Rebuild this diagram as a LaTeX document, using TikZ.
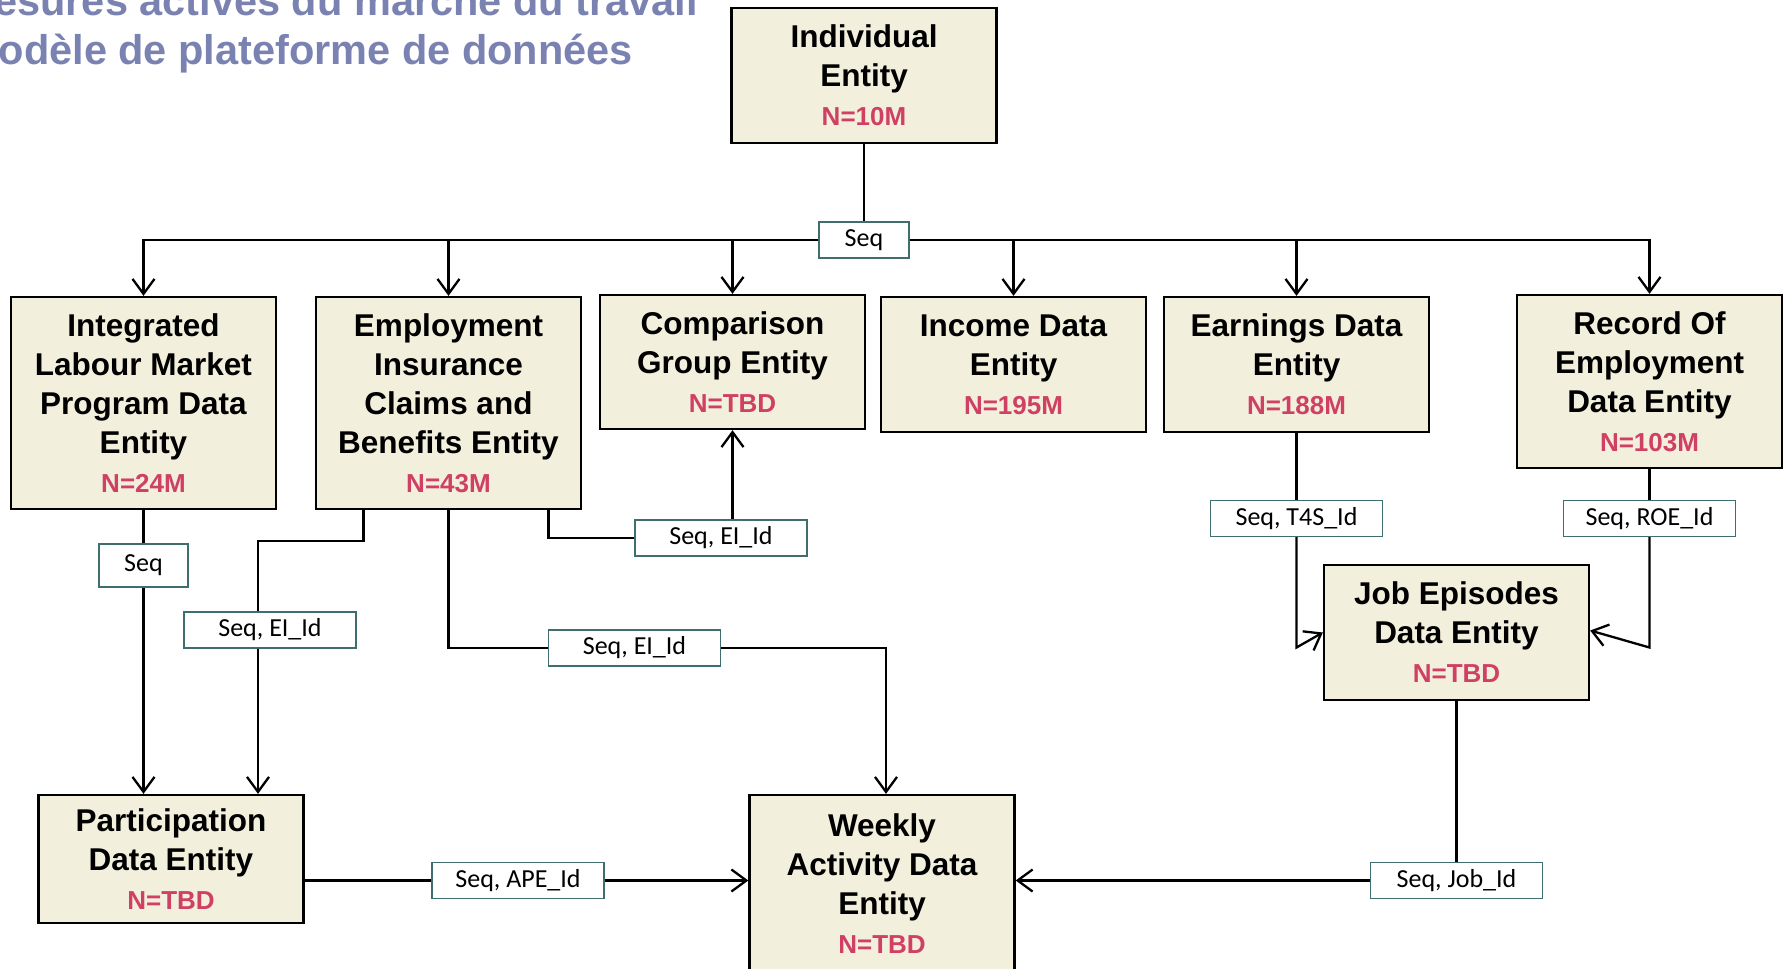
\documentclass[tikz,border=0pt]{standalone}
\usepackage{fontspec}
\setmainfont{Liberation Sans}
\newfontfamily\seqfont{Carlito}
\usetikzlibrary{arrows.meta}

\definecolor{entfill}{RGB}{242,240,221}
\definecolor{nred}{RGB}{207,64,100}
\definecolor{seqedge}{RGB}{62,110,110}
\definecolor{titleblue}{RGB}{122,130,178}

\newcommand{\nval}[1]{{\color{nred}\fontsize{26}{39}\selectfont #1}}

\begin{document}
\begin{tikzpicture}[x=1pt,y=-1pt,line width=2.3pt,
        >={Straight Barb[length=15pt,width=22pt]},
        entity/.style={draw=black,fill=entfill,minimum width=265pt,
            align=center,inner sep=0pt,
            font=\bfseries\fontsize{31.5}{39}\selectfont},
        seqbox/.style={draw=seqedge,line width=1.4pt,fill=white,
            minimum width=172pt,minimum height=36pt,inner sep=0pt,
            font=\seqfont\fontsize{26}{30}\selectfont}
    ]
            \useasboundingbox (0,0) rectangle (1791,969);
            \clip (0,0) rectangle (1791,969);

            % slide title, cut by the page edge
            \node[anchor=base east,inner sep=0pt,text=titleblue,
                font=\bfseries\fontsize{41.5}{48}\selectfont] (title1) at (699,15)
                {esures actives du marché du travail};
            \node[anchor=base east,inner sep=0pt,text=titleblue,
                font=\bfseries\fontsize{41.5}{48}\selectfont] (title2) at (634,64)
                {odèle de plateforme de données};

            \node[entity,minimum height=135pt] (ind)  at (864,75.5)
                {Individual\\Entity\\\nval{N=10M}};

            \node[entity,minimum height=212pt] (ilmp) at (143.5,403)
                {Integrated\\Labour Market\\Program Data\\Entity\\\nval{N=24M}};
            \node[entity,minimum height=212pt] (eic)  at (448.5,403)
                {Employment\\Insurance\\Claims and\\Benefits Entity\\\nval{N=43M}};
            \node[entity,minimum height=134pt] (cmp)  at (732.5,362)
                {Comparison\\Group Entity\\\nval{N=TBD}};
            \node[entity,minimum height=135pt] (inc)  at (1013.5,364.5)
                {Income Data\\Entity\\\nval{N=195M}};
            \node[entity,minimum height=135pt] (earn) at (1296.5,364.5)
                {Earnings Data\\Entity\\\nval{N=188M}};
            \node[entity,minimum height=173pt] (roe)  at (1649.5,381.5)
                {Record Of\\Employment\\Data Entity\\\nval{N=103M}};

            \node[entity,minimum height=135pt] (job)  at (1456.5,632.5)
                {Job Episodes\\Data Entity\\\nval{N=TBD}};
            \node[entity,minimum height=128pt] (part) at (171,859)
                {Participation\\Data Entity\\\nval{N=TBD}};
            \node[entity,minimum height=178pt] (week) at (882,884)
                {Weekly\\Activity Data\\Entity\\\nval{N=TBD}};

            % link keys
            \node[seqbox,minimum width=90pt] (seqtop) at (864,240) {Seq};
            \node[seqbox,minimum width=89pt,minimum height=43pt] (seqp) at (143.5,565.5) {Seq};
            \node[seqbox] (eil)   at (270,630)      {Seq, EI\_Id};
            \node[seqbox] (eim)   at (634.5,648)    {Seq, EI\_Id};
            \node[seqbox] (eir)   at (721,538)      {Seq, EI\_Id};
            \node[seqbox] (t4s)   at (1296.5,518.5) {Seq, T4S\_Id};
            \node[seqbox] (roeid) at (1649.5,518.5) {Seq, ROE\_Id};
            \node[seqbox] (ape)   at (518,880.5)    {Seq, APE\_Id};
            \node[seqbox] (jobid) at (1456.5,880.5) {Seq, Job\_Id};

            \coordinate (bendl) at (258,541);

            \draw (ind) -- (seqtop);
            \draw[->] (seqtop.west) -| (ilmp.north);
            \draw[->] (seqtop.west) -| (eic.north);
            \draw[->] (seqtop.west) -| (cmp.north);
            \draw[->] (seqtop.east) -| (inc.north);
            \draw[->] (seqtop.east) -| (earn.north);
            \draw[->] (seqtop.east) -| (roe.north);

            \draw (ilmp) -- (seqp);
            \draw[->] (seqp.south) -- (seqp.south |- part.north);

            \draw ([xshift=-85pt]eic.south) |- (bendl) -- (bendl |- eil.north);
            \draw[->] (bendl |- eil.south) -- (bendl |- part.north);

            \draw (eic.south) |- (eim.west);
            \draw[->] (eim.east) -| ([xshift=4pt]week.north);

            \draw ([xshift=100pt]eic.south) |- (eir.west);
            \draw[->] (eir.north -| cmp.south) -- (cmp.south);

            \draw (earn) -- (t4s);
            \draw[->] (t4s.south) -- ([yshift=-15pt]t4s.south |- job.west) -- (job.west);
            \draw (roe) -- (roeid);
            \draw[->] (roeid.south) -- ([yshift=-15pt]roeid.south |- job.east) -- ([yshift=2pt]job.east);

            \draw (part.east |- ape.west) -- (ape.west);
            \draw[->] (ape.east) -- (ape.east -| week.west);
            \draw (job) -- (jobid);
            \draw[->] (jobid.west) -- (jobid.west -| week.east);
        \end{tikzpicture}
\end{document}
